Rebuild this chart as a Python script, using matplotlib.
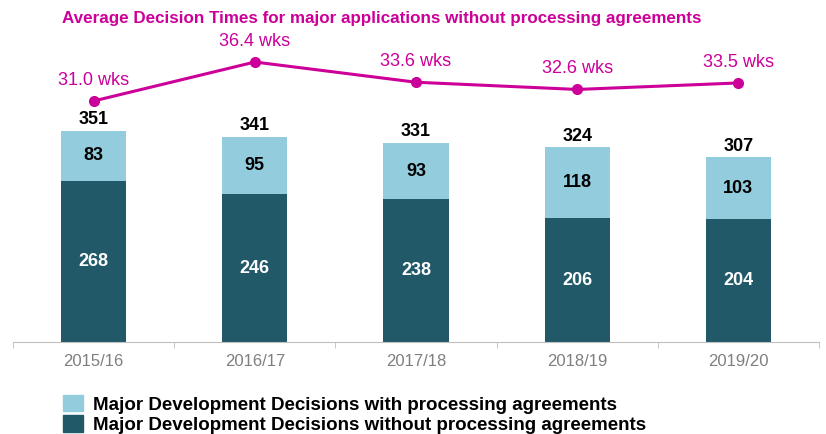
import matplotlib.pyplot as plt
from matplotlib.patches import Patch

plt.rcParams['font.family'] = ['Liberation Sans', 'DejaVu Sans']

years = ['2015/16', '2016/17', '2017/18', '2018/19', '2019/20']
without_pa = [268, 246, 238, 206, 204]
with_pa = [83, 95, 93, 118, 103]
totals = [351, 341, 331, 324, 307]
avg_weeks = [31.0, 36.4, 33.6, 32.6, 33.5]

dark = '#215968'
light = '#93CDDD'
magenta = '#CC0099'

fig = plt.figure(figsize=(8.26, 4.34), dpi=100)
ax = fig.add_axes([13 / 826, 92 / 434, 806 / 826, 302 / 434])
x = list(range(len(years)))

ax.bar(x, without_pa, width=0.404, color=dark)
ax.bar(x, with_pa, width=0.404, bottom=without_pa, color=light)

for i in x:
    ax.text(i, without_pa[i] / 2, str(without_pa[i]), ha='center', va='center',
            color='white', fontsize=13, fontweight='bold')
    ax.text(i, without_pa[i] + with_pa[i] / 2, str(with_pa[i]), ha='center',
            va='center', color='black', fontsize=13, fontweight='bold')
    ax.annotate(str(totals[i]), (i, totals[i]), xytext=(0, 8),
                textcoords='offset points', ha='center', va='center',
                fontsize=13, fontweight='bold', color='black')

ax.set_xlim(-0.5, 4.5)
ax.set_ylim(0, 502.5)
ax.set_yticks([])
for s in ['top', 'right', 'left']:
    ax.spines[s].set_visible(False)
ax.spines['bottom'].set_color('#BFBFBF')
ax.set_xticks(x)
ax.set_xticklabels(years, fontsize=12, color='#7F7F7F')
ax.tick_params(axis='x', which='major', length=0, pad=9)
ax.set_xticks([i - 0.5 for i in range(len(years) + 1)], minor=True)
ax.tick_params(axis='x', which='minor', length=4, color='#BFBFBF')

ax2 = ax.twinx()
ax2.plot(x, avg_weeks, color=magenta, lw=2.2, marker='o', ms=7)
for i in x:
    ax2.annotate(f'{avg_weeks[i]:.1f} wks', (i, avg_weeks[i]), xytext=(0, 15),
                 textcoords='offset points', ha='center', va='center',
                 fontsize=13, color=magenta)
ax2.set_ylim(-2.38, 39.45)
ax2.set_yticks([])
for s in ax2.spines.values():
    s.set_visible(False)

fig.text(62 / 826, 1 - 18 / 434,
         'Average Decision Times for major applications without processing agreements',
         ha='left', va='center', fontsize=12.25, fontweight='bold', color=magenta)

handles = [Patch(color=light), Patch(color=dark)]
labels = ['Major Development Decisions with processing agreements',
          'Major Development Decisions without processing agreements']
fig.legend(handles, labels, loc='upper left', bbox_to_anchor=(63 / 826, 1 - 395 / 434),
           frameon=False, borderpad=0, borderaxespad=0, handlelength=1.07,
           handleheight=0.96, handletextpad=0.53, labelspacing=0.1,
           prop={'size': 13.5, 'weight': 'bold'})

fig.savefig('out.png', dpi=100)
